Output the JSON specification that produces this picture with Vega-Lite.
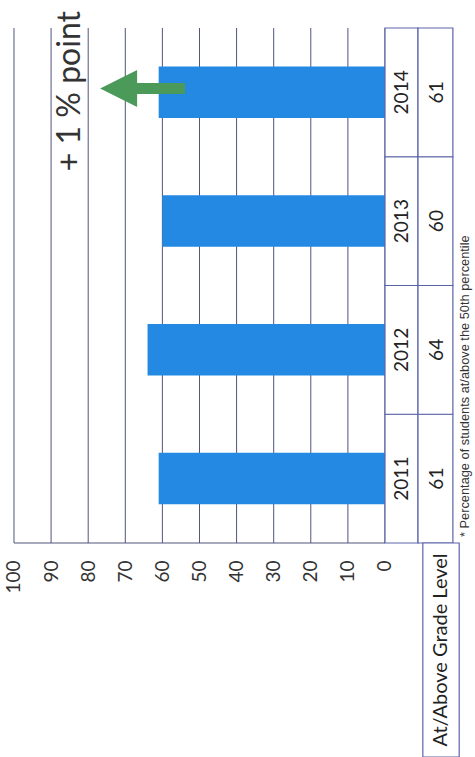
{
  "$schema": "https://vega.github.io/schema/vega-lite/v6.json",
  "autosize": {"type": "pad"},
  "padding": 0,
  "background": "white",
  "spacing": 0,
  "bounds": "flush",
  "config": {"view": {"stroke": null}, "font": "Lato"},
  "resolve": {"scale": {"x": "independent", "y": "independent"}},
  "datasets": {
    "scores": [
      {"year": "2011", "pct": 61},
      {"year": "2012", "pct": 64},
      {"year": "2013", "pct": 60},
      {"year": "2014", "pct": 61}
    ],
    "ticks": [
      {"tick": 0}, {"tick": 10}, {"tick": 20}, {"tick": 30}, {"tick": 40}, {"tick": 50},
      {"tick": 60}, {"tick": 70}, {"tick": 80}, {"tick": 90}, {"tick": 100}
    ],
    "notes": [
      {"change": "+ 1 % point", "footnote": "* Percentage of students at/above the 50th percentile", "header": "At/Above Grade Level"}
    ]
  },
  "vconcat": [
    {
      "width": 475,
      "height": 543,
      "layer": [
        {
          "data": {"name": "ticks"},
          "mark": {"type": "rule", "color": "#50557c", "strokeWidth": 1},
          "encoding": {
            "x": {
              "field": "tick", "type": "quantitative",
              "scale": {"domain": [-24.26, 103.77], "reverse": true, "nice": false, "zero": false},
              "axis": {
                "values": [0, 10, 20, 30, 40, 50, 60, 70, 80, 90, 100],
                "title": null, "grid": false, "ticks": false, "domain": false,
                "labelAngle": 270, "labelPadding": 17, "labelFontSize": 19,
                "labelColor": "#333333", "labelFont": "Lato"
              }
            },
            "y": {
              "datum": "2014", "type": "nominal", "bandPosition": 0,
              "scale": {"type": "band", "domain": ["2014", "2013", "2012", "2011"], "paddingInner": 0, "paddingOuter": 0.1087, "align": 1},
              "axis": null
            },
            "y2": {"datum": "2011", "bandPosition": 1}
          }
        },
        {
          "data": {"name": "notes"},
          "mark": {"type": "rule", "color": "#50557c", "strokeWidth": 1.2},
          "encoding": {
            "x": {"datum": 100, "type": "quantitative"},
            "x2": {"datum": 0},
            "y": {"datum": "2011", "type": "nominal", "bandPosition": 1}
          }
        },
        {
          "data": {"name": "scores"},
          "mark": {"type": "bar", "color": "#2389e3", "height": {"band": 0.4}},
          "encoding": {
            "y": {"field": "year", "type": "nominal"},
            "x": {"field": "pct", "type": "quantitative"},
            "x2": {"datum": 0}
          }
        },
        {
          "data": {"name": "scores"},
          "mark": {"type": "rect", "fill": "white", "stroke": "#5c64a8", "strokeWidth": 1.2},
          "encoding": {
            "y": {"field": "year", "type": "nominal"},
            "x": {"datum": 0, "type": "quantitative"},
            "x2": {"datum": -8.9}
          }
        },
        {
          "data": {"name": "scores"},
          "mark": {"type": "rect", "fill": "white", "stroke": "#5c64a8", "strokeWidth": 1.2},
          "encoding": {
            "y": {"field": "year", "type": "nominal"},
            "x": {"datum": -8.9, "type": "quantitative"},
            "x2": {"datum": -18.3}
          }
        },
        {
          "data": {"name": "scores"},
          "mark": {"type": "text", "angle": 270, "fontSize": 19, "color": "#222222", "align": "center", "baseline": "middle"},
          "encoding": {
            "y": {"field": "year", "type": "nominal"},
            "x": {"datum": -4.5, "type": "quantitative"},
            "text": {"field": "year"}
          }
        },
        {
          "data": {"name": "scores"},
          "mark": {"type": "text", "angle": 270, "fontSize": 19, "color": "#222222", "align": "center", "baseline": "middle"},
          "encoding": {
            "y": {"field": "year", "type": "nominal"},
            "x": {"datum": -14.0, "type": "quantitative"},
            "text": {"field": "pct"}
          }
        },
        {
          "data": {"name": "notes"},
          "mark": {"type": "rule", "color": "#4c9a5a", "strokeWidth": 11},
          "encoding": {
            "x": {"datum": 53.9, "type": "quantitative"},
            "x2": {"datum": 67.2},
            "y": {"datum": "2014", "type": "nominal", "bandPosition": 0.47}
          }
        },
        {
          "data": {"name": "notes"},
          "mark": {"type": "point", "shape": "M1,-1L-1,0L1,1Z", "filled": true, "color": "#4c9a5a", "opacity": 1, "size": 1369},
          "encoding": {
            "x": {"datum": 71.8, "type": "quantitative"},
            "y": {"datum": "2014", "type": "nominal", "bandPosition": 0.47}
          }
        },
        {
          "data": {"name": "notes"},
          "mark": {"type": "text", "angle": 270, "fontSize": 32, "color": "#333333", "align": "center", "baseline": "middle"},
          "encoding": {
            "x": {"datum": 84.9, "type": "quantitative"},
            "y": {"datum": "2014", "type": "nominal", "bandPosition": 0.49},
            "text": {"field": "change"}
          }
        },
        {
          "data": {"name": "notes"},
          "mark": {"type": "text", "angle": 270, "fontSize": 12.8, "font": "Liberation Sans", "color": "#333333", "align": "left", "baseline": "middle", "dx": 6},
          "encoding": {
            "x": {"datum": -21.6, "type": "quantitative"},
            "y": {"datum": "2011", "type": "nominal", "bandPosition": 1},
            "text": {"field": "footnote"}
          }
        }
      ]
    },
    {
      "width": 475,
      "height": 214,
      "data": {"name": "notes"},
      "layer": [
        {
          "mark": {"type": "rect", "fill": "white", "stroke": "#5c64a8", "strokeWidth": 1.2},
          "encoding": {
            "x": {
              "datum": -10.2, "type": "quantitative",
              "scale": {"domain": [-24.26, 103.77], "reverse": true, "nice": false, "zero": false},
              "axis": null
            },
            "x2": {"datum": -20.0}
          }
        },
        {
          "mark": {"type": "text", "angle": 270, "fontSize": 20, "color": "#222222", "align": "center", "baseline": "middle"},
          "encoding": {
            "x": {"datum": -15.1, "type": "quantitative"},
            "text": {"field": "header"}
          }
        }
      ]
    }
  ]
}
